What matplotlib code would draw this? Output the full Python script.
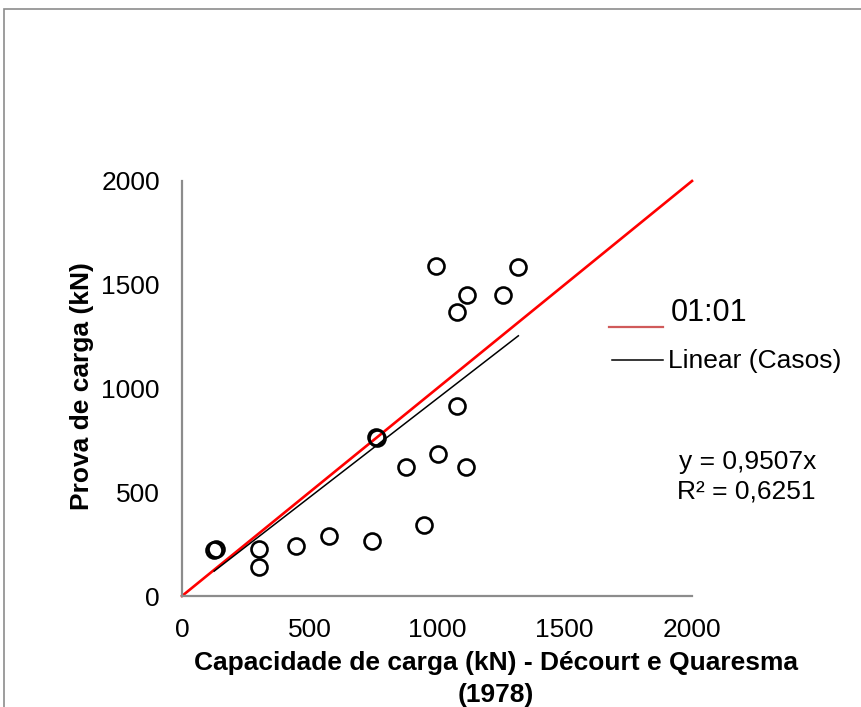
import matplotlib
matplotlib.use("Agg")
import matplotlib.pyplot as plt
from matplotlib.lines import Line2D
from matplotlib.patches import Rectangle
import numpy as np

plt.rcParams['font.family'] = ['Liberation Sans', 'DejaVu Sans']

# Data
capacidade = [997, 1319, 1119, 1260, 1078, 1078, 762, 765, 878, 1003, 1114, 949,
              126, 132, 301, 301, 447, 578, 744]
prova = [1592, 1584, 1451, 1451, 1367, 916, 765, 762, 623, 684, 620, 342,
         223, 226, 226, 138, 242, 289, 265]
slope = 0.9507
r2 = 0.6251
ticks = [0, 500, 1000, 1500, 2000]
xlabel_l1 = "Capacidade de carga (kN) - Décourt e Quaresma"
xlabel_l2 = "(1978)"
ylabel = "Prova de carga (kN)"

W, H = 861, 707
fig = plt.figure(figsize=(W / 100, H / 100), dpi=100)

def fx(px):
    return px / W

def fy(py):
    return 1 - py / H

ax = fig.add_axes([fx(182), fy(596), fx(692) - fx(182), fy(181) - fy(596)])
ax.set_xlim(0, 2000)
ax.set_ylim(0, 2000)
ax.set_xticks(ticks)
ax.set_yticks(ticks)
ax.tick_params(length=0, labelsize=19, pad=16)
for s in ['top', 'right']:
    ax.spines[s].set_visible(False)
for s in ['left', 'bottom']:
    ax.spines[s].set_color('#8c8c8c')
    ax.spines[s].set_linewidth(1.6)

# 1:1 line
ax.plot([0, 2000], [0, 2000], color='#ff0000', lw=1.9, zorder=2, clip_on=False)
# trend line
xs = np.array([min(capacidade), max(capacidade)])
ax.plot(xs, slope * xs, color='black', lw=1.1, zorder=2)
# points
ax.plot(capacidade, prova, linestyle='none', marker='o', markersize=11.5,
        markerfacecolor='none', markeredgecolor='black', markeredgewidth=1.9,
        zorder=3, clip_on=False)

# axis labels
fig.text(fx(496), fy(663), xlabel_l1, ha='center', va='center',
         fontsize=19, fontweight='bold')
fig.text(fx(496), fy(695), xlabel_l2, ha='center', va='center',
         fontsize=19, fontweight='bold')
fig.text(fx(82), fy(386), ylabel, ha='center', va='center', rotation=90,
         fontsize=19, fontweight='bold')

# legend (manual)
fig.add_artist(Line2D([fx(609), fx(663)], [fy(327), fy(327)], color='#d05a5a', lw=1.6))
fig.text(fx(671), fy(313), "01:01", ha='left', va='center', fontsize=22)
fig.add_artist(Line2D([fx(612), fx(663)], [fy(360), fy(360)], color='black', lw=1.1))
fig.text(fx(668), fy(361), "Linear (Casos)", ha='left', va='center', fontsize=19)

# equation
fig.text(fx(679), fy(462), "y = 0,9507x", ha='left', va='center', fontsize=19)
fig.text(fx(677), fy(491), "R² = 0,6251", ha='left', va='center', fontsize=19)

# figure border
fig.add_artist(Rectangle((fx(4), -0.1), 1.2, fy(9) + 0.1, transform=fig.transFigure,
                         fill=False, edgecolor='#8c8c8c', lw=1.2))

fig.savefig("out.png", dpi=100)
